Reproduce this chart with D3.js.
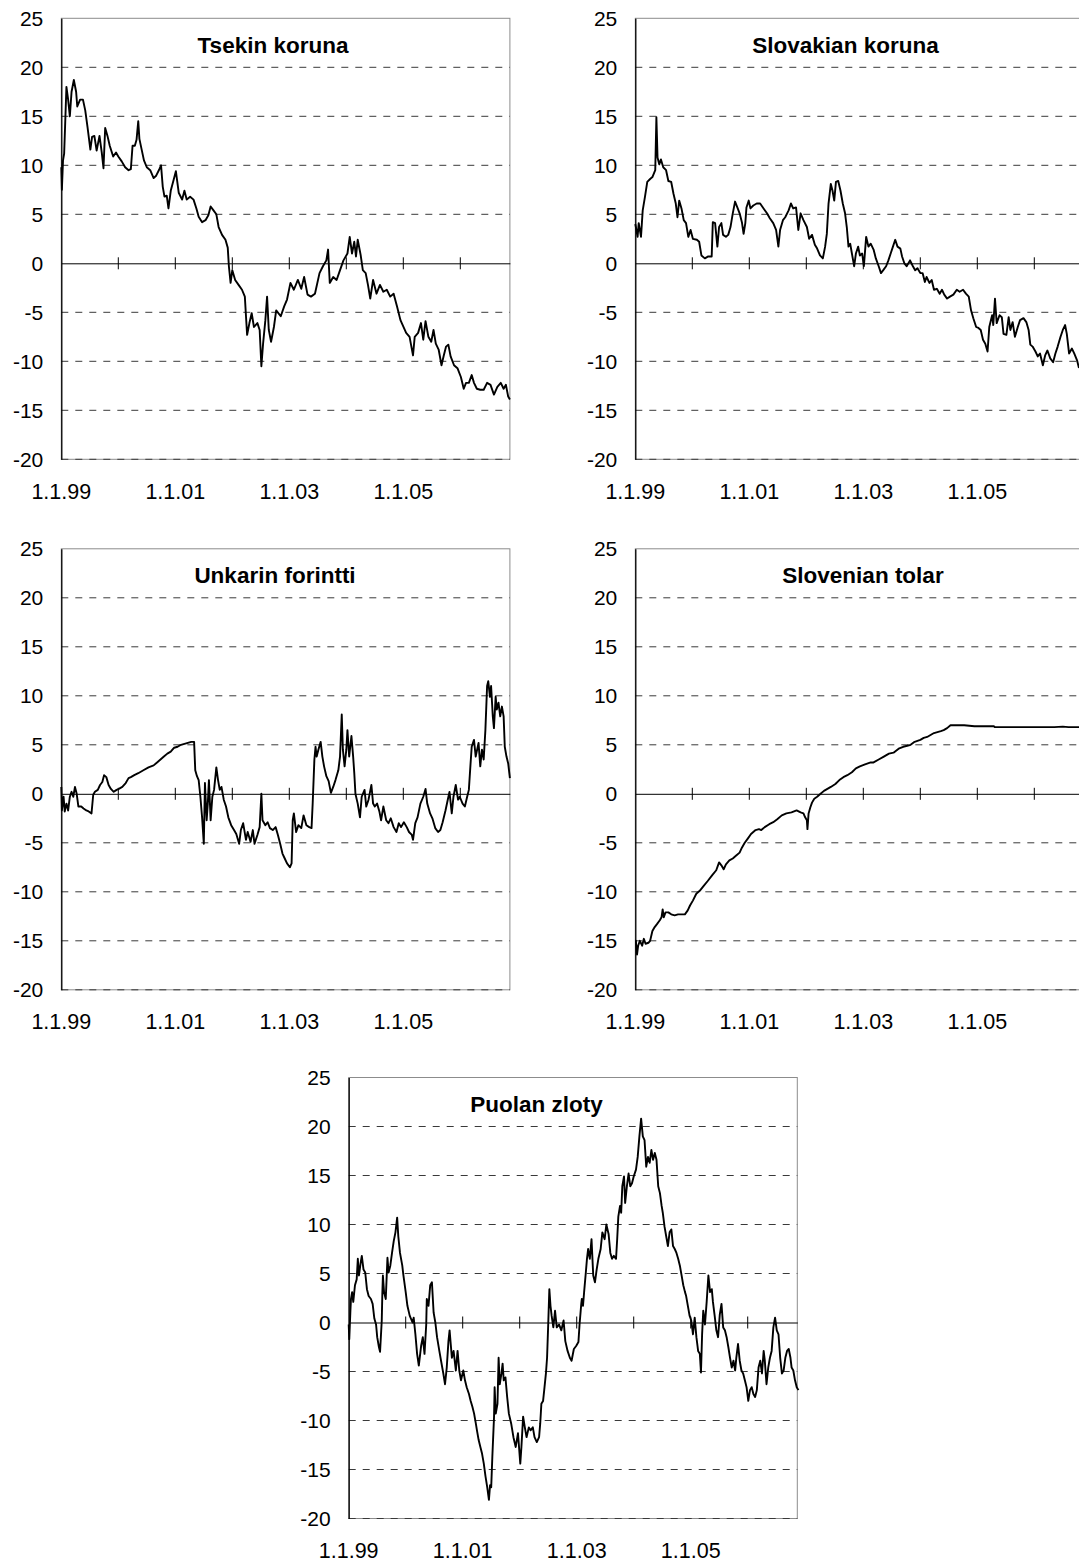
<!DOCTYPE html>
<html><head><meta charset="utf-8">
<script src="https://cdn.jsdelivr.net/npm/d3@7"></script>
<style>body{margin:0;background:#fff}svg{display:block}</style>
</head><body><svg id="c" width="1079" height="1563"></svg>
<script>
// ---- axis / label data ----
const yTickValues = [-20,-15,-10,-5,0,5,10,15,20,25];
const gridValues = [-20,-15,-10,-5,5,10,15,20];
const yearTickValues = [1,2,3,4,5,6,7];          // years since 1.1.1999
const xLabelValues = [0,2,4,6];
const xLabelTexts = ["1.1.99","1.1.01","1.1.03","1.1.05"];
const xDomain = [0, 7.87];
const yDomain = [-20, 25];
const titles = ["Tsekin koruna","Slovakian koruna","Unkarin forintti","Slovenian tolar","Puolan zloty"];

// ---- series: [years since 1.1.1999, value] ----
const tsekinKoruna = [[0.00,9.8],[0.01,7.5],[0.03,10.5],[0.05,11.2],[0.07,14.6],[0.09,18.0],[0.12,16.7],[0.15,15.0],[0.18,17.5],[0.22,18.7],[0.26,17.5],[0.28,16.0],[0.33,16.7],[0.38,16.7],[0.42,15.6],[0.46,13.9],[0.51,11.6],[0.54,12.9],[0.58,13.0],[0.62,11.5],[0.67,13.0],[0.71,11.3],[0.74,9.7],[0.77,13.8],[0.81,13.0],[0.85,12.0],[0.91,10.9],[0.96,11.3],[1.00,10.9],[1.06,10.4],[1.12,9.8],[1.18,9.5],[1.22,9.6],[1.25,12.0],[1.29,12.0],[1.32,12.6],[1.35,14.5],[1.37,12.7],[1.41,11.6],[1.45,10.5],[1.50,9.8],[1.56,9.5],[1.62,8.7],[1.66,8.9],[1.72,9.6],[1.75,10.0],[1.78,7.8],[1.81,6.8],[1.85,6.9],[1.88,5.6],[1.92,7.4],[1.97,8.5],[2.01,9.4],[2.06,7.2],[2.12,6.5],[2.16,7.4],[2.20,6.5],[2.26,6.8],[2.32,6.5],[2.37,5.6],[2.41,4.75],[2.47,4.2],[2.53,4.4],[2.58,4.9],[2.62,5.8],[2.67,5.4],[2.72,5.0],[2.76,3.7],[2.82,2.9],[2.88,2.4],[2.92,1.6],[2.94,-0.3],[2.97,-2.0],[3.00,-0.7],[3.05,-1.7],[3.11,-2.2],[3.17,-2.7],[3.22,-3.4],[3.24,-5.4],[3.26,-7.3],[3.30,-6.1],[3.34,-5.1],[3.38,-6.5],[3.44,-6.1],[3.48,-6.8],[3.51,-10.5],[3.54,-8.2],[3.58,-5.8],[3.61,-3.4],[3.64,-6.8],[3.68,-8.0],[3.73,-6.5],[3.77,-4.8],[3.85,-5.4],[3.91,-4.4],[3.96,-3.7],[4.02,-2.0],[4.08,-2.7],[4.15,-1.7],[4.21,-2.6],[4.26,-1.4],[4.32,-3.2],[4.38,-3.4],[4.45,-3.1],[4.53,-1.0],[4.59,-0.3],[4.65,0.3],[4.68,1.4],[4.71,-2.0],[4.77,-1.4],[4.83,-1.7],[4.89,-0.7],[4.95,0.3],[5.02,1.0],[5.06,2.7],[5.10,1.0],[5.14,2.2],[5.17,0.7],[5.20,2.4],[5.25,0.9],[5.29,-0.7],[5.34,-1.0],[5.38,-2.2],[5.42,-3.6],[5.47,-1.7],[5.53,-3.1],[5.59,-2.2],[5.65,-2.9],[5.71,-2.7],[5.77,-3.4],[5.83,-3.1],[5.89,-4.4],[5.95,-5.8],[6.05,-7.1],[6.11,-7.5],[6.17,-9.4],[6.20,-7.5],[6.26,-7.1],[6.31,-6.1],[6.35,-7.8],[6.39,-5.9],[6.44,-7.5],[6.49,-8.0],[6.53,-6.8],[6.57,-8.2],[6.62,-8.8],[6.67,-10.4],[6.71,-9.4],[6.75,-8.5],[6.79,-8.3],[6.83,-9.5],[6.89,-10.4],[6.95,-10.7],[7.01,-11.6],[7.06,-12.8],[7.10,-12.2],[7.15,-12.2],[7.20,-11.4],[7.24,-12.2],[7.29,-12.8],[7.35,-12.9],[7.41,-12.9],[7.47,-12.2],[7.53,-12.4],[7.59,-13.4],[7.65,-12.6],[7.71,-12.2],[7.76,-12.8],[7.80,-12.4],[7.84,-13.6],[7.87,-13.9]];

const slovakianKoruna = [[0.00,4.0],[0.01,3.7],[0.04,2.7],[0.06,4.1],[0.08,3.4],[0.10,2.7],[0.13,5.4],[0.17,6.8],[0.21,8.3],[0.26,8.6],[0.30,8.8],[0.35,9.5],[0.37,14.9],[0.39,10.8],[0.42,10.1],[0.45,10.6],[0.49,9.8],[0.54,9.5],[0.58,8.4],[0.63,8.3],[0.67,7.1],[0.71,6.1],[0.74,4.7],[0.77,6.4],[0.81,5.6],[0.85,4.4],[0.89,4.1],[0.93,2.7],[0.97,3.4],[1.01,2.5],[1.08,2.4],[1.12,2.2],[1.16,0.8],[1.22,0.5],[1.28,0.7],[1.34,0.7],[1.36,4.2],[1.40,4.1],[1.44,1.7],[1.47,3.7],[1.51,4.1],[1.54,2.9],[1.59,2.7],[1.63,2.9],[1.67,3.7],[1.71,5.1],[1.75,6.3],[1.79,5.7],[1.83,5.1],[1.87,4.2],[1.90,3.0],[1.93,4.1],[1.95,5.7],[1.99,6.4],[2.02,5.6],[2.07,5.9],[2.13,6.1],[2.19,6.1],[2.25,5.6],[2.31,5.1],[2.36,4.6],[2.42,4.1],[2.47,3.4],[2.51,1.7],[2.54,3.4],[2.59,4.4],[2.63,4.7],[2.69,5.4],[2.73,6.1],[2.77,5.6],[2.82,5.7],[2.86,3.4],[2.90,5.1],[2.95,4.4],[3.01,3.7],[3.05,2.5],[3.10,2.9],[3.15,1.9],[3.19,1.5],[3.24,0.8],[3.29,0.5],[3.33,1.7],[3.36,3.0],[3.39,6.1],[3.43,8.1],[3.46,7.4],[3.49,6.4],[3.52,8.3],[3.56,8.4],[3.60,7.4],[3.64,6.1],[3.68,5.1],[3.71,3.7],[3.74,1.7],[3.77,2.0],[3.80,1.0],[3.84,-0.3],[3.87,1.0],[3.91,1.7],[3.94,0.8],[3.98,1.0],[4.01,-0.3],[4.05,2.7],[4.09,1.7],[4.13,2.0],[4.18,1.4],[4.22,0.5],[4.27,-0.3],[4.31,-1.0],[4.35,-0.7],[4.40,-0.3],[4.44,0.3],[4.48,1.0],[4.52,1.7],[4.56,2.4],[4.60,1.7],[4.65,1.5],[4.68,0.7],[4.72,0.0],[4.76,-0.3],[4.82,0.3],[4.87,-0.3],[4.91,-0.7],[4.95,-0.5],[5.00,-1.0],[5.04,-1.0],[5.08,-1.9],[5.11,-1.4],[5.16,-2.0],[5.20,-1.7],[5.24,-2.7],[5.29,-2.6],[5.34,-3.1],[5.38,-2.7],[5.42,-3.2],[5.47,-3.6],[5.52,-3.4],[5.58,-3.2],[5.64,-2.7],[5.69,-2.9],[5.75,-2.7],[5.80,-3.1],[5.85,-3.4],[5.89,-4.8],[5.93,-5.6],[5.98,-6.5],[6.02,-6.6],[6.06,-6.8],[6.10,-7.8],[6.14,-8.2],[6.18,-9.0],[6.21,-6.5],[6.26,-5.3],[6.28,-6.3],[6.31,-3.6],[6.34,-6.1],[6.39,-5.3],[6.43,-5.5],[6.46,-7.2],[6.51,-7.3],[6.55,-5.5],[6.58,-6.8],[6.62,-6.0],[6.66,-7.5],[6.71,-6.5],[6.75,-5.8],[6.81,-5.6],[6.86,-6.0],[6.90,-6.8],[6.93,-8.3],[6.97,-8.5],[7.02,-9.0],[7.06,-9.5],[7.10,-9.2],[7.15,-10.4],[7.19,-9.4],[7.23,-8.9],[7.28,-9.7],[7.33,-10.1],[7.37,-9.2],[7.41,-8.5],[7.46,-7.5],[7.50,-6.8],[7.54,-6.3],[7.57,-7.2],[7.61,-9.2],[7.66,-8.7],[7.70,-9.2],[7.75,-9.9],[7.78,-10.6],[7.82,-10.4],[7.87,-10.6]];

const unkarinForintti = [[0.00,0.7],[0.01,-1.7],[0.04,-0.3],[0.06,-1.8],[0.09,-1.0],[0.12,-1.7],[0.15,-0.3],[0.18,0.2],[0.21,-0.3],[0.24,0.7],[0.27,0.0],[0.30,-1.3],[0.35,-1.3],[0.39,-1.5],[0.44,-1.7],[0.48,-1.8],[0.53,-2.0],[0.56,-0.1],[0.59,0.2],[0.64,0.4],[0.68,0.9],[0.72,1.2],[0.75,1.9],[0.79,1.7],[0.83,0.9],[0.87,0.5],[0.92,0.2],[0.97,0.4],[1.01,0.5],[1.07,0.7],[1.13,1.1],[1.18,1.6],[1.22,1.7],[1.28,1.9],[1.35,2.1],[1.44,2.4],[1.53,2.7],[1.62,2.9],[1.68,3.2],[1.74,3.5],[1.80,3.8],[1.86,4.1],[1.92,4.3],[1.98,4.7],[2.04,4.8],[2.10,5.0],[2.16,5.1],[2.22,5.2],[2.28,5.3],[2.33,5.3],[2.35,2.4],[2.38,1.8],[2.41,1.4],[2.44,-0.3],[2.47,-2.4],[2.50,-5.1],[2.52,1.1],[2.55,-2.7],[2.57,-1.0],[2.59,1.4],[2.62,-2.7],[2.65,-0.3],[2.68,0.4],[2.72,2.7],[2.75,1.4],[2.78,0.4],[2.81,0.7],[2.85,-0.6],[2.89,-1.3],[2.93,-2.4],[2.98,-3.2],[3.03,-3.7],[3.07,-4.1],[3.12,-5.1],[3.15,-3.7],[3.19,-3.0],[3.24,-4.7],[3.27,-3.9],[3.32,-4.9],[3.36,-3.7],[3.39,-5.1],[3.44,-4.2],[3.48,-3.4],[3.51,0.0],[3.53,-2.7],[3.58,-3.2],[3.62,-2.9],[3.66,-3.5],[3.71,-3.7],[3.76,-3.4],[3.80,-4.2],[3.84,-5.1],[3.88,-6.1],[3.92,-6.6],[3.96,-7.1],[4.01,-7.5],[4.04,-7.1],[4.06,-2.7],[4.08,-2.0],[4.12,-3.9],[4.16,-3.2],[4.21,-3.5],[4.25,-2.2],[4.30,-3.2],[4.35,-3.4],[4.39,-3.5],[4.41,-1.0],[4.44,3.5],[4.46,4.8],[4.48,3.8],[4.51,4.5],[4.55,5.3],[4.58,3.8],[4.61,2.8],[4.65,1.8],[4.69,1.3],[4.73,0.1],[4.77,0.7],[4.81,1.4],[4.86,2.4],[4.89,3.8],[4.92,8.1],[4.94,4.5],[4.97,2.8],[5.00,4.5],[5.02,6.5],[5.05,3.8],[5.09,5.9],[5.12,3.8],[5.14,2.1],[5.16,0.0],[5.20,-1.0],[5.24,-2.4],[5.27,-0.3],[5.32,0.4],[5.35,-1.3],[5.39,-0.6],[5.44,0.9],[5.47,-1.0],[5.50,-1.3],[5.54,-1.0],[5.58,-1.8],[5.61,-2.7],[5.65,-1.3],[5.70,-2.7],[5.74,-3.0],[5.78,-2.5],[5.83,-3.4],[5.88,-3.9],[5.92,-3.0],[5.96,-3.4],[6.01,-2.9],[6.06,-3.4],[6.10,-3.9],[6.15,-4.2],[6.17,-4.7],[6.21,-3.0],[6.25,-2.4],[6.30,-1.0],[6.35,-0.3],[6.39,0.5],[6.42,-1.0],[6.47,-2.0],[6.51,-2.5],[6.56,-3.5],[6.61,-3.9],[6.65,-3.7],[6.69,-2.9],[6.74,-1.7],[6.78,-0.6],[6.81,0.2],[6.85,-2.0],[6.88,-0.3],[6.92,0.9],[6.96,-0.6],[6.99,-0.3],[7.04,-1.0],[7.08,-1.3],[7.12,-0.3],[7.15,0.4],[7.18,3.1],[7.20,4.8],[7.24,5.5],[7.27,3.8],[7.32,5.2],[7.35,2.8],[7.38,4.5],[7.41,3.5],[7.44,6.5],[7.47,11.0],[7.49,11.5],[7.52,9.9],[7.54,11.0],[7.57,7.9],[7.59,6.7],[7.62,9.9],[7.64,8.6],[7.67,9.3],[7.70,7.9],[7.73,8.9],[7.76,7.9],[7.78,4.8],[7.81,3.8],[7.84,3.1],[7.87,1.6]];

const slovenianTolar = [[0.00,-15.0],[0.01,-15.0],[0.03,-16.4],[0.05,-15.5],[0.08,-15.0],[0.12,-15.5],[0.15,-14.8],[0.18,-15.3],[0.23,-15.2],[0.26,-15.0],[0.30,-14.0],[0.34,-13.6],[0.38,-13.3],[0.43,-12.9],[0.46,-12.6],[0.48,-11.8],[0.50,-12.6],[0.53,-12.1],[0.58,-12.1],[0.63,-12.3],[0.69,-12.4],[0.75,-12.3],[0.81,-12.3],[0.87,-12.3],[0.92,-11.9],[0.96,-11.4],[1.01,-10.9],[1.07,-10.2],[1.13,-9.9],[1.20,-9.4],[1.27,-8.9],[1.35,-8.3],[1.42,-7.8],[1.47,-7.0],[1.51,-7.3],[1.55,-7.7],[1.59,-7.2],[1.65,-6.8],[1.71,-6.6],[1.77,-6.3],[1.83,-6.0],[1.87,-5.5],[1.92,-5.0],[1.97,-4.6],[2.03,-4.1],[2.11,-3.7],[2.17,-3.6],[2.21,-3.7],[2.27,-3.4],[2.35,-3.1],[2.42,-2.9],[2.49,-2.6],[2.57,-2.2],[2.65,-2.0],[2.74,-1.9],[2.83,-1.7],[2.90,-1.9],[2.95,-2.0],[2.98,-2.4],[3.01,-2.7],[3.02,-3.6],[3.04,-2.0],[3.07,-1.4],[3.10,-0.9],[3.14,-0.5],[3.19,-0.3],[3.25,0.0],[3.31,0.3],[3.37,0.5],[3.43,0.7],[3.51,1.0],[3.58,1.4],[3.65,1.7],[3.72,1.9],[3.80,2.2],[3.87,2.6],[3.94,2.8],[4.03,3.0],[4.13,3.2],[4.18,3.2],[4.27,3.5],[4.36,3.8],[4.45,4.1],[4.53,4.2],[4.62,4.6],[4.70,4.8],[4.77,4.9],[4.83,5.0],[4.90,5.3],[5.00,5.5],[5.06,5.7],[5.12,5.8],[5.18,6.0],[5.24,6.2],[5.30,6.3],[5.36,6.4],[5.41,6.5],[5.47,6.7],[5.53,7.0],[5.60,7.0],[5.67,7.0],[5.77,7.0],[5.95,6.9],[6.12,6.9],[6.29,6.9],[6.31,6.8],[6.60,6.8],[6.88,6.8],[7.20,6.8],[7.35,6.8],[7.50,6.85],[7.60,6.8],[7.87,6.8]];

const puolanZloty = [[0.00,-0.2],[0.01,-1.7],[0.03,1.2],[0.04,2.4],[0.06,3.1],[0.08,2.1],[0.11,3.8],[0.14,4.4],[0.16,6.5],[0.18,4.8],[0.21,6.1],[0.23,6.8],[0.26,5.4],[0.29,5.1],[0.32,3.4],[0.35,2.7],[0.39,2.4],[0.42,1.9],[0.45,0.4],[0.48,-0.2],[0.50,-1.5],[0.53,-2.5],[0.55,-3.0],[0.58,0.2],[0.59,2.9],[0.60,4.8],[0.62,3.1],[0.65,2.4],[0.68,6.6],[0.70,5.1],[0.73,5.8],[0.76,7.1],[0.79,8.3],[0.82,9.2],[0.85,10.7],[0.87,8.8],[0.90,7.1],[0.94,5.8],[0.96,4.8],[1.00,3.1],[1.03,1.7],[1.07,0.7],[1.12,0.0],[1.14,0.5],[1.17,-1.2],[1.20,-3.2],[1.23,-4.4],[1.27,-2.4],[1.30,-1.5],[1.33,-3.2],[1.36,-0.2],[1.37,2.4],[1.40,1.7],[1.43,3.8],[1.46,4.1],[1.49,1.0],[1.52,0.0],[1.55,-1.5],[1.59,-2.9],[1.62,-3.9],[1.66,-5.2],[1.69,-6.3],[1.72,-4.6],[1.75,-1.9],[1.77,-0.8],[1.81,-3.6],[1.84,-2.9],[1.88,-4.9],[1.91,-2.9],[1.94,-4.9],[1.97,-5.9],[2.01,-4.9],[2.04,-5.9],[2.07,-6.6],[2.11,-7.3],[2.14,-8.0],[2.17,-8.6],[2.20,-9.3],[2.23,-10.3],[2.25,-11.0],[2.28,-12.0],[2.31,-12.7],[2.34,-13.4],[2.37,-14.4],[2.40,-15.7],[2.43,-16.8],[2.46,-18.1],[2.48,-16.6],[2.50,-16.8],[2.52,-13.7],[2.55,-9.6],[2.56,-6.6],[2.58,-9.3],[2.61,-8.3],[2.63,-3.6],[2.65,-6.3],[2.68,-5.2],[2.70,-4.2],[2.72,-5.9],[2.75,-5.6],[2.78,-7.6],[2.81,-9.3],[2.85,-10.3],[2.89,-11.7],[2.93,-12.7],[2.97,-11.3],[3.01,-14.4],[3.03,-12.7],[3.06,-9.6],[3.09,-10.7],[3.12,-11.7],[3.16,-10.7],[3.19,-11.0],[3.23,-10.7],[3.26,-11.7],[3.30,-12.2],[3.34,-11.7],[3.36,-10.3],[3.38,-8.3],[3.41,-8.0],[3.43,-6.9],[3.46,-5.2],[3.48,-3.6],[3.50,-0.2],[3.52,3.4],[3.54,1.7],[3.56,0.7],[3.59,-0.5],[3.62,1.2],[3.65,-0.5],[3.69,-0.2],[3.73,-0.8],[3.77,0.2],[3.80,-1.9],[3.84,-2.9],[3.88,-3.6],[3.91,-3.9],[3.95,-2.7],[3.99,-2.4],[4.03,-2.0],[4.05,-0.2],[4.08,1.9],[4.09,2.4],[4.11,1.7],[4.13,3.1],[4.16,5.1],[4.18,6.5],[4.20,7.5],[4.23,6.5],[4.26,8.5],[4.29,4.8],[4.32,4.1],[4.35,5.4],[4.38,6.5],[4.42,7.5],[4.45,9.2],[4.49,8.5],[4.52,10.0],[4.56,9.0],[4.59,7.1],[4.62,6.5],[4.65,6.8],[4.69,6.5],[4.71,8.5],[4.73,10.8],[4.76,11.9],[4.78,11.2],[4.80,13.9],[4.83,14.9],[4.85,12.2],[4.88,13.9],[4.91,15.2],[4.94,13.9],[4.97,14.2],[5.00,14.9],[5.04,15.6],[5.07,16.9],[5.10,19.0],[5.13,20.8],[5.16,19.0],[5.19,18.6],[5.22,15.9],[5.25,16.9],[5.28,16.3],[5.31,17.6],[5.34,16.6],[5.37,17.3],[5.40,16.6],[5.43,13.9],[5.46,13.2],[5.49,11.9],[5.51,11.2],[5.54,9.8],[5.57,8.8],[5.60,7.8],[5.63,9.2],[5.66,9.5],[5.69,7.8],[5.72,7.5],[5.75,7.1],[5.78,6.5],[5.81,5.8],[5.84,4.8],[5.87,3.8],[5.90,3.1],[5.92,2.7],[5.95,1.7],[5.98,0.7],[6.01,0.2],[6.04,-1.2],[6.07,0.5],[6.10,-1.5],[6.13,-2.9],[6.16,-3.2],[6.18,-5.1],[6.20,-1.2],[6.22,1.2],[6.25,-0.2],[6.28,2.1],[6.31,4.8],[6.34,3.1],[6.37,3.4],[6.39,2.1],[6.42,0.7],[6.45,-0.8],[6.48,-1.5],[6.51,0.8],[6.54,1.9],[6.57,-0.5],[6.60,-0.8],[6.63,-1.5],[6.66,-2.5],[6.69,-3.6],[6.72,-4.6],[6.75,-3.9],[6.78,-4.9],[6.80,-3.6],[6.83,-2.2],[6.86,-3.9],[6.89,-4.9],[6.92,-5.2],[6.95,-5.9],[6.98,-6.6],[7.01,-8.0],[7.04,-6.9],[7.07,-6.6],[7.10,-7.3],[7.13,-7.6],[7.16,-6.9],[7.19,-4.6],[7.22,-3.9],[7.25,-5.2],[7.28,-2.9],[7.30,-3.9],[7.33,-6.3],[7.36,-4.6],[7.39,-3.6],[7.42,-2.9],[7.45,-0.5],[7.48,0.5],[7.51,-0.8],[7.54,-1.2],[7.57,-3.6],[7.60,-5.2],[7.63,-4.9],[7.66,-3.6],[7.69,-2.9],[7.72,-2.7],[7.75,-3.6],[7.77,-4.6],[7.80,-4.9],[7.83,-5.9],[7.86,-6.6],[7.89,-6.9]];

const seriesList = [tsekinKoruna, slovakianKoruna, unkarinForintti, slovenianTolar, puolanZloty];

// ---- layout ----
const plotW = 448.6, plotH = 441;
const layout = [
  {left:61.3, top:18.3, titleX:273},
  {left:635.3, top:18.3, titleX:845.5},
  {left:61.3, top:548.8, titleX:275},
  {left:635.3, top:548.8, titleX:863},
  {left:348.7, top:1077.5, titleX:536.5}
];

const svg = d3.select("#c");
const FONT = "'Liberation Sans', Arial, Helvetica, sans-serif";

layout.forEach((L, i) => {
  const x = d3.scaleLinear().domain(xDomain).range([L.left, L.left + plotW]);
  const y = d3.scaleLinear().domain(yDomain).range([L.top + plotH, L.top]);
  const g = svg.append("g");

  // plot border (grey)
  g.append("rect").attr("x", L.left).attr("y", L.top).attr("width", plotW).attr("height", plotH)
    .attr("fill", "none").attr("stroke", "#8c8c8c").attr("stroke-width", 1);

  // dashed gridlines
  g.selectAll("line.grid").data(gridValues).join("line").attr("class","grid")
    .attr("x1", L.left).attr("x2", L.left + plotW)
    .attr("y1", d => y(d)).attr("y2", d => y(d))
    .attr("stroke", "#3a3a3a").attr("stroke-width", 1).attr("stroke-dasharray", "7,7");

  // zero line with year ticks (x axis)
  const xAxis = d3.axisBottom(x).tickValues(yearTickValues).tickSize(0).tickFormat("");
  const ax = g.append("g").attr("transform", `translate(0,${y(0)})`).call(xAxis);
  ax.select(".domain").attr("stroke", "#000").attr("stroke-width", 1);
  g.selectAll("line.yt").data(yearTickValues).join("line").attr("class","yt")
    .attr("x1", d => x(d)).attr("x2", d => x(d))
    .attr("y1", y(0) - 6).attr("y2", y(0) + 6)
    .attr("stroke", "#000").attr("stroke-width", 1);

  // left axis (y)
  const yAxis = d3.axisLeft(y).tickValues(yTickValues).tickSize(0).tickPadding(18)
    .tickFormat(d => String(d));
  const ay = g.append("g").attr("transform", `translate(${L.left},0)`).call(yAxis);
  ay.select(".domain").attr("stroke", "#000").attr("stroke-width", 1.3);
  ay.selectAll("text").attr("font-family", FONT).attr("font-size", 21).attr("fill", "#000");

  // x labels
  g.selectAll("text.xl").data(xLabelValues).join("text").attr("class","xl")
    .attr("x", d => x(d)).attr("y", L.top + plotH + 39.5)
    .attr("text-anchor", "middle").attr("font-family", FONT).attr("font-size", 21.5)
    .text((d, k) => xLabelTexts[k]);

  // series line
  const line = d3.line().x(d => x(d[0])).y(d => y(d[1]));
  g.append("path").datum(seriesList[i]).attr("d", line)
    .attr("fill", "none").attr("stroke", "#000").attr("stroke-width", 1.9)
    .attr("stroke-linejoin", "round");

  // title
  g.append("text").attr("x", L.titleX).attr("y", L.top + 34.5)
    .attr("text-anchor", "middle").attr("font-family", FONT)
    .attr("font-size", 22.5).attr("font-weight", "bold").text(titles[i]);
});
</script>
</body></html>
